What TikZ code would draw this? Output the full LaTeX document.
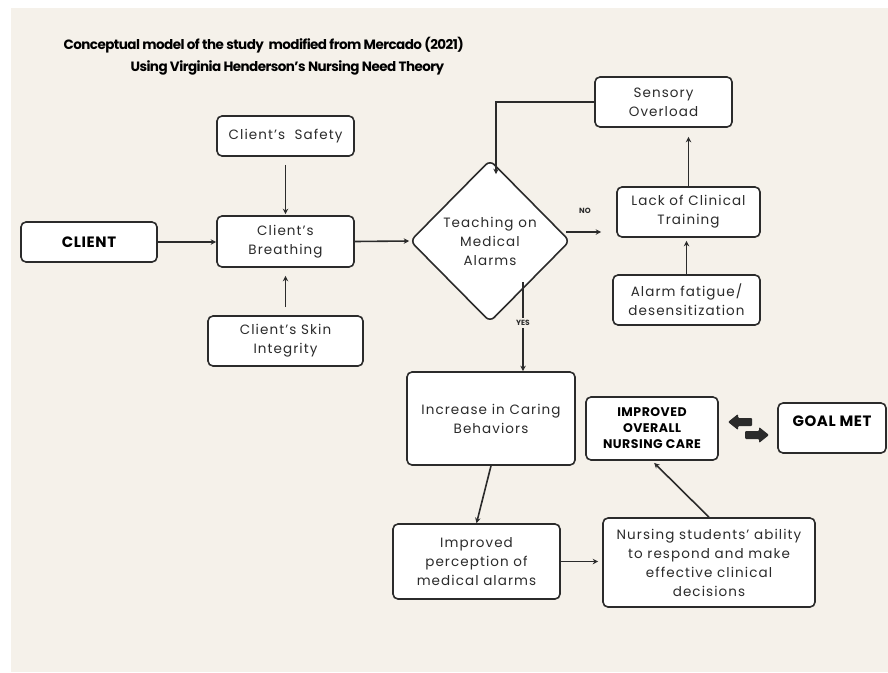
\documentclass[tikz,border=0pt]{standalone}
\usepackage{fontspec}
\setmainfont{Poppins}
\newfontfamily\boxfont[LetterSpace=8]{Poppins}
\newfontfamily\headfont[LetterSpace=-4]{Poppins}
\newfontfamily\capsfont[LetterSpace=4]{Poppins}
\usepackage{tikz}
\usetikzlibrary{positioning, arrows.meta, shapes.geometric, calc}
\definecolor{cream}{HTML}{F5F1EA}
\definecolor{ink}{HTML}{2B2B2B}

\begin{document}
\begin{tikzpicture}[x=1pt, y=-1pt,
  box/.style={draw=ink, fill=white, line width=1.6pt, rounded corners=5pt, align=center, inner sep=0pt,
    font=\boxfont\fontsize{13.5}{19}\selectfont, text=ink},
  boldbox/.style={box, font=\capsfont\fontsize{12.5}{16}\selectfont\bfseries, text=black},
  bigbox/.style={boldbox, font=\capsfont\fontsize{15}{18}\selectfont\bfseries},
  arr/.style={-{Stealth[length=5.5pt, width=5.5pt]}, line width=1.6pt, draw=ink},
  tag/.style={font=\fontsize{7.5}{9}\selectfont\bfseries, text=ink, fill=cream, inner sep=2pt},
  head/.style={anchor=west, font=\headfont\fontsize{13.5}{16}\selectfont\bfseries}]
\fill[white] (0,0) rectangle (888,672);
\fill[cream] (11,8) rectangle (888,672);
\node[head] (title1) at (60,45) {Conceptual model of the study\ \ modified from Mercado (2021)};
\node[head] (title2) at (127,68) {Using Virginia Henderson’s Nursing Need Theory};
\node[bigbox, minimum width=136pt, minimum height=40pt] (client) at (89,242) {CLIENT};
\node[box, minimum width=137pt, minimum height=51pt] (breathing) at (285.5,241.5) {Client’s\\Breathing};
\node[box, minimum width=137pt, minimum height=40pt] (safety) at (285.5,136) {Client’s\ \ Safety};
\node[box, minimum width=155pt, minimum height=50pt] (skin) at (285.5,341) {Client’s Skin\\Integrity};
\node[box, diamond, rounded corners=6pt, minimum width=160pt, minimum height=162pt] (teach) at (490,241) {Teaching on\\Medical\\Alarms};
\node[box, minimum width=137pt, minimum height=50pt] (sensory) at (663.5,102) {Sensory\\Overload};
\node[box, minimum width=143pt, minimum height=50pt] (lack) at (688.5,212) {Lack of Clinical\\Training};
\node[box, minimum width=147pt, minimum height=50pt] (fatigue) at (686.5,300) {Alarm fatigue/\\desensitization};
\node[box, minimum width=168pt, minimum height=93pt] (caring) at (491,418.5) {Increase in Caring\\Behaviors};
\node[box, minimum width=167pt, minimum height=75pt] (perception) at (476.5,561.5) {Improved\\perception of\\medical alarms};
\node[box, minimum width=212pt, minimum height=89pt] (nursing) at (709,562.5) {Nursing students’ ability\\to respond and make\\effective clinical\\decisions};
\node[boldbox, minimum width=132pt, minimum height=63pt] (overall) at (652,428.5) {IMPROVED\\OVERALL\\NURSING CARE};
\node[bigbox, minimum width=108pt, minimum height=50pt, text depth=14pt] (goal) at (832,428) {GOAL MET};
\draw[arr] (client.east) -- (client.east -| breathing.west);
\draw[arr, shorten <=8pt, shorten >=1pt] (safety.south) -- (breathing.north);
\draw[arr, shorten <=8pt, shorten >=8pt] (skin.north) -- (breathing.south);
\draw[arr] (breathing.east) -- (teach.west);
\coordinate (no) at ($(teach.east)+(-5,-9)$);
\draw[arr, shorten >=15pt] (no) -- (no -| lack.west);
\node[tag] (nolabel) at (585,211) {NO};
\draw[arr, shorten >=3pt] (fatigue.north) -- (fatigue.north |- lack.south);
\draw[arr, shorten >=9pt] (lack.north) -- (lack.north |- sensory.south);
\coordinate (drop) at ($(teach.north)+(6,15)$);
\draw[arr] (sensory.west) -| (drop);
\coordinate (yes) at (523,282);
\draw[arr] (yes) -- node[tag, pos=0.46] (yeslabel) {YES} (yes |- caring.north);
\draw[arr] (caring.south) -- (perception.north);
\draw[arr, shorten >=4pt] (perception.east) -- (perception.east -| nursing.west);
\draw[arr, shorten >=3pt] (nursing.north) -- (overall.south);
\fill[ink, rounded corners=1pt] (728,422) -- (738,414) -- (738,418) -- (752,418) -- (752,426) -- (738,426) -- (738,430) -- cycle;
\fill[ink, rounded corners=1pt] (769,435) -- (759,427) -- (759,431) -- (745,431) -- (745,439) -- (759,439) -- (759,443) -- cycle;
\end{tikzpicture}
\end{document}
